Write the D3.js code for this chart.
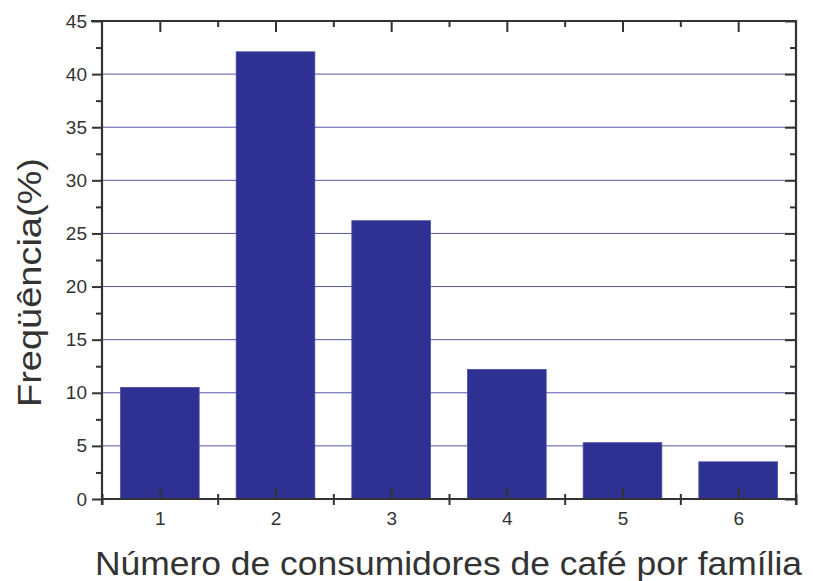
<!DOCTYPE html>
<html>
<head>
<meta charset="utf-8">
<script src="https://cdn.jsdelivr.net/npm/d3@7"></script>
<style>
  html, body { margin: 0; padding: 0; background: #fff; }
  svg { display: block; }
  text { font-family: "Liberation Sans", Arial, Helvetica, sans-serif; fill: #333; }
</style>
</head>
<body>
<svg id="chart" width="813" height="581"></svg>
<script>
const categories = [1, 2, 3, 4, 5, 6];
const frequencies = [10.5, 42.1, 26.2, 12.2, 5.3, 3.5];
const yTicks = [0, 5, 10, 15, 20, 25, 30, 35, 40, 45];
const yMinorTicks = [2.5, 7.5, 12.5, 17.5, 22.5, 27.5, 32.5, 37.5, 42.5];
const xLabel = "Número de consumidores de café por família";
const yLabel = "Freqüência(%)";

const W = 813, H = 581;
const m = { left: 102, right: 813 - 796, top: 21, bottom: 581 - 499 };
const svg = d3.select("#chart");
const x = d3.scaleLinear().domain([0.5, 6.5]).range([m.left, W - m.right]);
const y = d3.scaleLinear().domain([0, 45]).range([H - m.bottom, m.top]);
const axisColor = "#333";
const barColor = "#2e3192";
const gridColor = "#5656a8";
const tickFont = 19;

// gridlines
svg.append("g").selectAll("line").data(yTicks.filter(d => d > 0 && d < 45)).join("line")
  .attr("x1", x(0.5)).attr("x2", x(6.5))
  .attr("y1", d => y(d)).attr("y2", d => y(d))
  .attr("stroke", gridColor).attr("stroke-width", 1);

// bars
const bw = 0.68 * (x(2) - x(1));
svg.append("g").selectAll("rect").data(categories).join("rect")
  .attr("x", (d) => x(d) - bw / 2)
  .attr("width", bw)
  .attr("y", (d, i) => y(frequencies[i]))
  .attr("height", (d, i) => y(0) - y(frequencies[i]))
  .attr("fill", barColor)
  .attr("stroke", "#4a4aa6").attr("stroke-width", 0.8);

const boundaries = d3.range(0.5, 7, 1);

// Left axis: outward ticks
const left = svg.append("g").attr("transform", `translate(${x(0.5)},0)`)
  .call(d3.axisLeft(y).tickValues(yTicks).tickSize(10).tickPadding(5).tickFormat(d3.format("d")));
left.select(".domain").remove();
left.selectAll(".tick line").attr("stroke", axisColor).attr("stroke-width", 2);
left.selectAll(".tick text").attr("font-size", tickFont).attr("fill", "#333").style("font-family", "'Liberation Sans', Arial, sans-serif");
svg.append("g").attr("transform", `translate(${x(0.5)},0)`)
  .call(d3.axisLeft(y).tickValues(yMinorTicks).tickSize(6).tickFormat(""))
  .call(g => g.select(".domain").remove())
  .selectAll(".tick line").attr("stroke", axisColor).attr("stroke-width", 2);

// Right axis: inward ticks
svg.append("g").attr("transform", `translate(${x(6.5)},0)`)
  .call(d3.axisLeft(y).tickValues(yTicks).tickSize(0).tickFormat(""))
  .call(g => g.select(".domain").remove())
  .selectAll(".tick line").attr("stroke", axisColor).attr("stroke-width", 2)
  .attr("x1", 0).attr("x2", -11);
svg.append("g").attr("transform", `translate(${x(6.5)},0)`)
  .call(d3.axisLeft(y).tickValues(yMinorTicks).tickSize(0).tickFormat(""))
  .call(g => g.select(".domain").remove())
  .selectAll(".tick line").attr("stroke", axisColor).attr("stroke-width", 2)
  .attr("x1", 0).attr("x2", -6);

// Bottom axis: major inward, labels below
const bottom = svg.append("g").attr("transform", `translate(0,${y(0)})`)
  .call(d3.axisBottom(x).tickValues(categories).tickSize(0).tickPadding(13).tickFormat(d3.format("d")));
bottom.select(".domain").remove();
bottom.selectAll(".tick line").attr("stroke", axisColor).attr("stroke-width", 2).attr("y1", 0).attr("y2", -11);
bottom.selectAll(".tick text").attr("font-size", tickFont).attr("fill", "#333").style("font-family", "'Liberation Sans', Arial, sans-serif");
svg.append("g").attr("transform", `translate(0,${y(0)})`)
  .call(d3.axisBottom(x).tickValues(boundaries).tickSize(0).tickFormat(""))
  .call(g => g.select(".domain").remove())
  .selectAll(".tick line").attr("stroke", axisColor).attr("stroke-width", 2).attr("y1", -5).attr("y2", 6);

// Top axis: inward ticks
svg.append("g").attr("transform", `translate(0,${y(45)})`)
  .call(d3.axisTop(x).tickValues(categories).tickSize(0).tickFormat(""))
  .call(g => g.select(".domain").remove())
  .selectAll(".tick line").attr("stroke", axisColor).attr("stroke-width", 2).attr("y1", 0).attr("y2", 11);
svg.append("g").attr("transform", `translate(0,${y(45)})`)
  .call(d3.axisTop(x).tickValues(boundaries.slice(1, -1)).tickSize(0).tickFormat(""))
  .call(g => g.select(".domain").remove())
  .selectAll(".tick line").attr("stroke", axisColor).attr("stroke-width", 2).attr("y1", 0).attr("y2", 6);

// frame
const frame = svg.append("g").attr("stroke", axisColor).attr("stroke-width", 2.2).attr("fill", "none");
frame.append("line").attr("x1", x(0.5) - 11).attr("x2", x(6.5)).attr("y1", y(45)).attr("y2", y(45));
frame.append("line").attr("x1", x(0.5)).attr("x2", x(6.5)).attr("y1", y(0)).attr("y2", y(0));
frame.append("line").attr("x1", x(0.5)).attr("x2", x(0.5)).attr("y1", y(45)).attr("y2", y(0) + 6);
frame.append("line").attr("x1", x(6.5)).attr("x2", x(6.5)).attr("y1", y(45) - 1).attr("y2", y(0) + 6);

// axis titles
svg.append("text")
  .attr("x", (95 + 802) / 2).attr("y", 575)
  .attr("text-anchor", "middle").attr("font-size", 34)
  .attr("textLength", 707).attr("lengthAdjust", "spacingAndGlyphs")
  .text(xLabel);
svg.append("text")
  .attr("transform", `translate(41,${(158 + 407) / 2}) rotate(-90)`)
  .attr("text-anchor", "middle").attr("font-size", 34)
  .attr("textLength", 249).attr("lengthAdjust", "spacingAndGlyphs")
  .text(yLabel);
</script>
</body>
</html>
